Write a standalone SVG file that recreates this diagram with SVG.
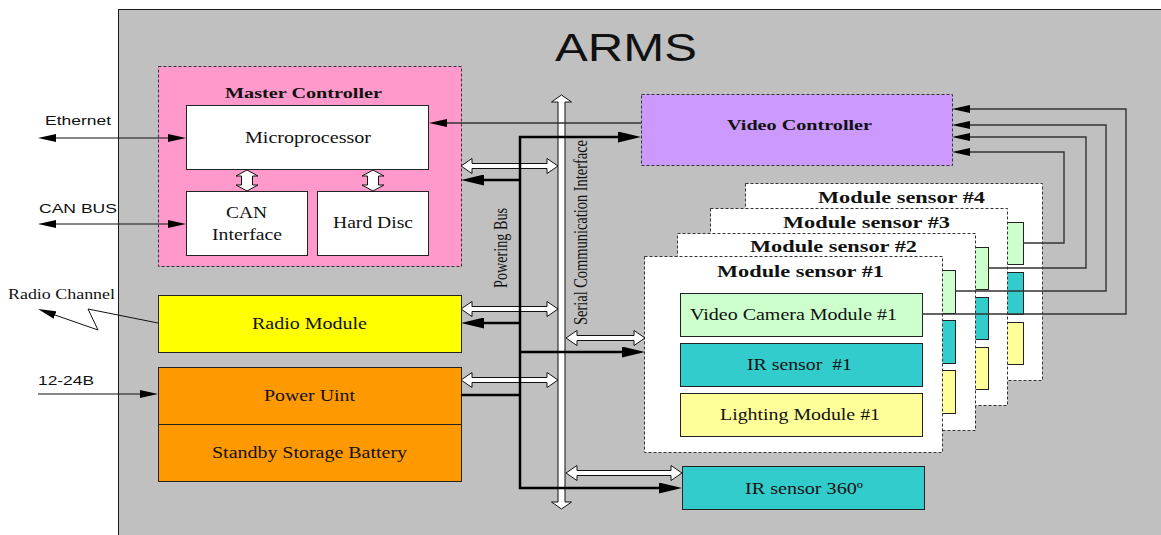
<svg xmlns="http://www.w3.org/2000/svg" width="1161" height="535" viewBox="0 0 1161 535">
  <defs>
    <style>
      .bg { fill: #c0c0c0; stroke: #1a1a1a; stroke-width: 1; }
      .dash { stroke: #333; stroke-width: 1; stroke-dasharray: 3 2; }
      .box { stroke: #222; stroke-width: 1; }
      .t { font-family: "Liberation Serif", "Times New Roman", serif; font-size: 16px; fill: #111; }
      .tb { font-family: "Liberation Serif", "Times New Roman", serif; font-size: 16px; font-weight: bold; fill: #111; }
      .s { font-family: "Liberation Sans", Arial, sans-serif; font-size: 13.5px; fill: #111; }
      .hollow { fill: #fff; stroke: #111; stroke-width: 1; stroke-linejoin: miter; }
      .pwr { fill: none; stroke: #000; stroke-width: 2.5; }
      .wire { fill: none; stroke: #111; stroke-width: 1; }
      .vid { fill: none; stroke: #333; stroke-width: 1.4; }
      .green { fill: #ccffcc; }
      .teal { fill: #33cccc; }
      .lyellow { fill: #ffff99; }
    </style>
    <marker id="headBig" markerUnits="userSpaceOnUse" viewBox="0 -5.5 23 11" markerWidth="23" markerHeight="11" refX="0" refY="0" orient="auto-start-reverse">
      <path d="M0,-5.5 L23,0 L0,5.5 Z" fill="#000"/>
    </marker>
    <marker id="headSmall" markerUnits="userSpaceOnUse" viewBox="0 -4 18 8" markerWidth="18" markerHeight="8" refX="0" refY="0" orient="auto-start-reverse">
      <path d="M0,-4 L18,0 L0,4 Z" fill="#000"/>
    </marker>
  </defs>

  <rect x="0" y="0" width="1161" height="535" fill="#fff"/>
  <!-- system enclosure -->
  <rect class="bg" x="118.5" y="9.5" width="1060" height="540"/>
  <text class="s" x="555" y="61" style="font-size:39px" textLength="142" lengthAdjust="spacingAndGlyphs">ARMS</text>

  <!-- Master controller -->
  <g id="master-controller">
    <rect class="dash" x="158.5" y="66.5" width="303" height="200" fill="#ff99cc"/>
    <text class="tb" x="225" y="98" style="font-size:15px" textLength="157" lengthAdjust="spacingAndGlyphs">Master Controller</text>
  </g>
  <g id="microprocessor">
    <rect class="box" x="186.5" y="105.5" width="242" height="64" fill="#fff"/>
    <text class="t" x="245" y="143" textLength="126" lengthAdjust="spacingAndGlyphs">Microprocessor</text>
  </g>
  <g id="can-interface">
    <rect class="box" x="186.5" y="191.5" width="121" height="64" fill="#fff"/>
    <text class="t" x="226" y="218" textLength="41" lengthAdjust="spacingAndGlyphs">CAN</text>
    <text class="t" x="212" y="240" textLength="70" lengthAdjust="spacingAndGlyphs">Interface</text>
  </g>
  <g id="hard-disc">
    <rect class="box" x="317.5" y="191.5" width="111" height="64" fill="#fff"/>
    <text class="t" x="333" y="228" textLength="80" lengthAdjust="spacingAndGlyphs">Hard Disc</text>
  </g>

  <!-- Radio and power -->
  <g id="radio-module">
    <rect class="box" x="158.5" y="295.5" width="303" height="57" fill="#ffff00"/>
    <text class="t" x="252" y="329" textLength="115" lengthAdjust="spacingAndGlyphs">Radio Module</text>
  </g>
  <g id="power-unit">
    <rect class="box" x="158.5" y="367.5" width="303" height="57" fill="#ff9900"/>
    <text class="t" x="264" y="401" textLength="91" lengthAdjust="spacingAndGlyphs">Power Uint</text>
  </g>
  <g id="standby-battery">
    <rect class="box" x="158.5" y="424.5" width="303" height="57" fill="#ff9900"/>
    <text class="t" x="212" y="458" textLength="195" lengthAdjust="spacingAndGlyphs">Standby Storage Battery</text>
  </g>

  <!-- Video controller -->
  <g id="video-controller">
    <rect class="dash" x="641.5" y="94.5" width="311" height="71" fill="#cc99ff"/>
    <text class="tb" x="727" y="130" style="font-size:15px" textLength="145" lengthAdjust="spacingAndGlyphs">Video Controller</text>
  </g>

  <!-- Module sensors, back to front -->
  <g id="module-sensor-4">
    <rect class="dash" x="745.5" y="183.5" width="297" height="197" fill="#fff"/>
    <text class="tb" x="818" y="203" textLength="167" lengthAdjust="spacingAndGlyphs">Module sensor #4</text>
    <rect class="box green" x="781.5" y="222.5" width="242" height="42"/>
    <rect class="box teal" x="781.5" y="272.5" width="242" height="42"/>
    <rect class="box lyellow" x="781.5" y="322.5" width="242" height="42"/>
  </g>
  <g id="module-sensor-3">
    <rect class="dash" x="710.5" y="208.5" width="297" height="197" fill="#fff"/>
    <text class="tb" x="783" y="228" textLength="167" lengthAdjust="spacingAndGlyphs">Module sensor #3</text>
    <rect class="box green" x="746.5" y="247.5" width="242" height="42"/>
    <rect class="box teal" x="746.5" y="297.5" width="242" height="42"/>
    <rect class="box lyellow" x="746.5" y="347.5" width="242" height="42"/>
  </g>
  <g id="module-sensor-2">
    <rect class="dash" x="677.5" y="233.5" width="298" height="197" fill="#fff"/>
    <text class="tb" x="750" y="252" textLength="167" lengthAdjust="spacingAndGlyphs">Module sensor #2</text>
    <rect class="box green" x="713.5" y="270.5" width="242" height="43"/>
    <rect class="box teal" x="713.5" y="320.5" width="242" height="43"/>
    <rect class="box lyellow" x="713.5" y="370.5" width="242" height="43"/>
  </g>
  <g id="module-sensor-1">
    <rect class="dash" x="644.5" y="256.5" width="298" height="196" fill="#fff"/>
    <text class="tb" x="717" y="277" textLength="167" lengthAdjust="spacingAndGlyphs">Module sensor #1</text>
  </g>
  <g id="video-camera-1">
    <rect class="box green" x="680.5" y="293.5" width="242" height="43"/>
    <text class="t" x="690" y="320" textLength="207" lengthAdjust="spacingAndGlyphs">Video Camera Module #1</text>
  </g>
  <g id="ir-sensor-1">
    <rect class="box teal" x="680.5" y="343.5" width="242" height="43"/>
    <text class="t" x="747" y="370" textLength="105" lengthAdjust="spacingAndGlyphs" xml:space="preserve">IR sensor  #1</text>
  </g>
  <g id="lighting-1">
    <rect class="box lyellow" x="680.5" y="393.5" width="242" height="43"/>
    <text class="t" x="720" y="420" textLength="160" lengthAdjust="spacingAndGlyphs">Lighting Module #1</text>
  </g>

  <g id="ir-sensor-360">
    <rect class="box teal" x="682.5" y="466.5" width="242" height="43"/>
    <text class="t" x="745" y="494" textLength="118" lengthAdjust="spacingAndGlyphs">IR sensor 360º</text>
  </g>

  <!-- Connectors -->
  <g id="connectors">
    <!-- serial communication interface bus and its links -->
    <path class="hollow" d="M561.5,95 L571.5,102 L565,102 L565,502 L571.5,502 L561.5,509 L551.5,502 L558,502 L558,102 L551.5,102 Z"/>
    <path class="hollow" d="M461,166 L472,158.5 L472,163.5 L547,163.5 L547,158.5 L558,166 L547,173.5 L547,168.5 L472,168.5 L472,173.5 Z"/>
    <path class="hollow" d="M461,309 L472,301.5 L472,306.5 L547,306.5 L547,301.5 L558,309 L547,316.5 L547,311.5 L472,311.5 L472,316.5 Z"/>
    <path class="hollow" d="M461,380 L472,372.5 L472,377.5 L547,377.5 L547,372.5 L558,380 L547,387.5 L547,382.5 L472,382.5 L472,387.5 Z"/>
    <path class="hollow" d="M566,338 L577,330.5 L577,335.5 L634,335.5 L634,330.5 L645,338 L634,345.5 L634,340.5 L577,340.5 L577,345.5 Z"/>
    <path class="hollow" d="M566,473 L577,465.5 L577,470.5 L671,470.5 L671,465.5 L682,473 L671,480.5 L671,475.5 L577,475.5 L577,480.5 Z"/>

    <!-- internal links of the master controller -->
    <path class="hollow" d="M247,170 L258,176 L252.5,176 L252.5,185 L258,185 L247,191 L236,185 L241.5,185 L241.5,176 L236,176 Z"/>
    <path class="hollow" d="M373,170 L384,176 L378.5,176 L378.5,185 L384,185 L373,191 L362,185 L367.5,185 L367.5,176 L362,176 Z"/>

    <!-- powering bus -->
    <path class="pwr" d="M618,137 L520,137 L520,488 L659,488" marker-start="url(#headBig)" marker-end="url(#headBig)"/>
    <path class="pwr" d="M520,180 L484,180" marker-end="url(#headBig)"/>
    <path class="pwr" d="M520,323 L484,323" marker-end="url(#headBig)"/>
    <path class="pwr" d="M461,395 L520,395"/>
    <path class="pwr" d="M520,352 L622,352" marker-end="url(#headBig)"/>

    <!-- video controller to microprocessor -->
    <path class="vid" d="M641,123 L447,123" marker-end="url(#headSmall)"/>

    <!-- camera modules to video controller -->
    <path class="vid" d="M922,314 L1126,314 L1126,109 L970,109" marker-end="url(#headSmall)"/>
    <path class="vid" d="M955,291 L1106,291 L1106,125 L970,125" marker-end="url(#headSmall)"/>
    <path class="vid" d="M988,268 L1086,268 L1086,137 L970,137" marker-end="url(#headSmall)"/>
    <path class="vid" d="M1023,243 L1064,243 L1064,152 L970,152" marker-end="url(#headSmall)"/>

    <!-- external interfaces -->
    <path class="wire" d="M56,138 L168,138" marker-start="url(#headSmall)" marker-end="url(#headSmall)"/>
    <path class="wire" d="M56,224 L168,224" marker-start="url(#headSmall)" marker-end="url(#headSmall)"/>
    <path class="wire" d="M158,323 L88,309 L98,330 L55,315" marker-end="url(#headSmall)"/>
    <path class="wire" d="M38,394 L140,394" marker-end="url(#headSmall)"/>
  </g>

  <!-- labels -->
  <text class="s" x="45" y="125" textLength="66" lengthAdjust="spacingAndGlyphs">Ethernet</text>
  <text class="s" x="39" y="213" textLength="78" lengthAdjust="spacingAndGlyphs">CAN BUS</text>
  <text class="t" x="8" y="299" style="font-size:14px" textLength="107" lengthAdjust="spacingAndGlyphs">Radio Channel</text>
  <text class="s" x="38" y="385" textLength="56" lengthAdjust="spacingAndGlyphs">12-24B</text>
  <text class="t" style="font-size:15px" transform="translate(507,288) scale(1.3,1) rotate(-90)" textLength="80" lengthAdjust="spacingAndGlyphs">Powering Bus</text>
  <text class="t" style="font-size:15px" transform="translate(587,325) scale(1.3,1) rotate(-90)" textLength="185" lengthAdjust="spacingAndGlyphs">Serial Communication Interface</text>
</svg>
